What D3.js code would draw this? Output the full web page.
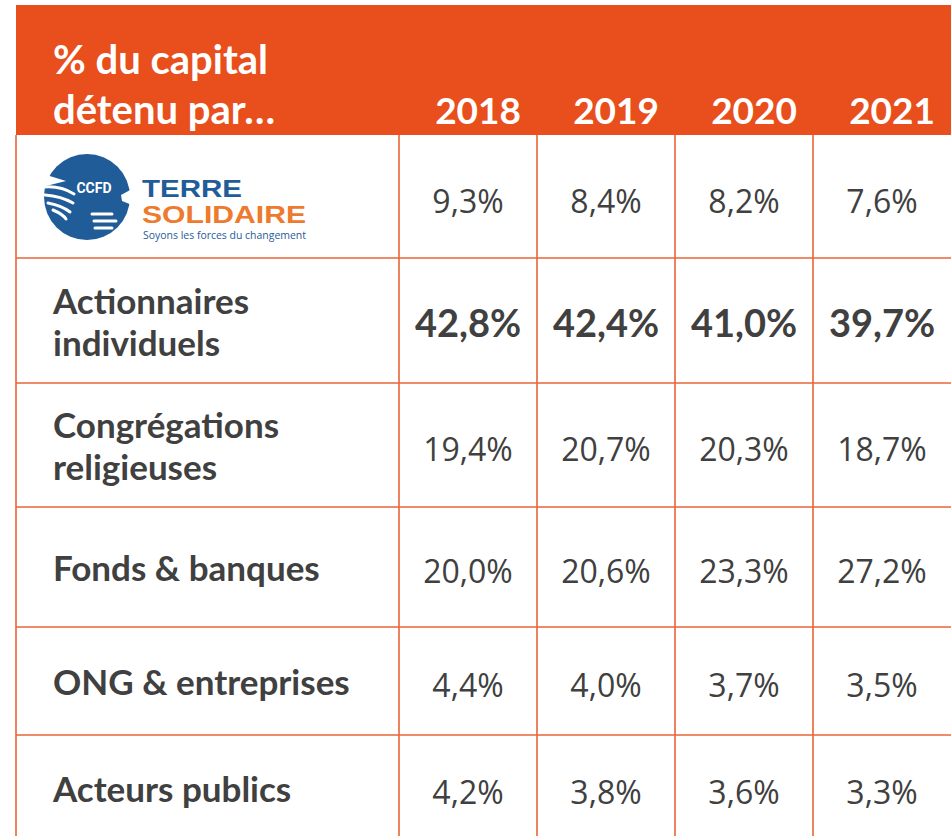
<!DOCTYPE html>
<html>
<head>
<meta charset="utf-8">
<script src="https://cdn.jsdelivr.net/npm/d3@7"></script>
<style>
  html, body { margin: 0; padding: 0; background: #ffffff; }
  svg { display: block; }
</style>
</head>
<body>
<svg id="chart" width="951" height="836"></svg>
<script>
// ---------- DATA ----------
const titleLines = ["% du capital", "détenu par…"];
const years = ["2018", "2019", "2020", "2021"];
const categories = ["CCFD-Terre Solidaire", "Actionnaires individuels", "Congrégations religieuses",
                    "Fonds & banques", "ONG & entreprises", "Acteurs publics"];
const labelLines = [[], ["Actionnaires", "individuels"], ["Congrégations", "religieuses"],
                    ["Fonds & banques"], ["ONG & entreprises"], ["Acteurs publics"]];
const values2018 = [9.3, 42.8, 19.4, 20.0, 4.4, 4.2];
const values2019 = [8.4, 42.4, 20.7, 20.6, 4.0, 3.8];
const values2020 = [8.2, 41.0, 20.3, 23.3, 3.7, 3.6];
const values2021 = [7.6, 39.7, 18.7, 27.2, 3.5, 3.3];
const highlightCategory = "Actionnaires individuels";
const logoWords = ["CCFD", "TERRE", "SOLIDAIRE", "Soyons les forces du changement"];

// ---------- LAYOUT ----------
const W = 951, H = 836;
const tableLeft = 16, firstColRight = 399, tableRight = 951;
const headerTop = 5, headerBottom = 135;
const rowHeights = [123, 125, 124, 120, 108, 106];
const ORANGE = "#E84F1D", LINE = "#EA6536", TEXT = "#404040";
const BLUE = "#1F5C98", LOGO_ORANGE = "#EE7A2E";

const seriesByYear = { "2018": values2018, "2019": values2019, "2020": values2020, "2021": values2021 };
const locale = d3.formatLocale({ decimal: ",", thousands: " ", grouping: [3], currency: ["", "€"] });
const fmt = v => locale.format(".1f")(v) + "%";

const svg = d3.select("#chart");

const x = d3.scaleBand().domain(years).range([firstColRight, tableRight]).padding(0);

// row boundaries
const rowTops = [];
let acc = headerBottom;
rowHeights.forEach(h => { rowTops.push(acc); acc += h; });
const y = d3.scaleOrdinal().domain(categories).range(rowTops);
const rowH = d3.scaleOrdinal().domain(categories).range(rowHeights);

// ---------- HEADER ----------
svg.append("rect")
  .attr("x", tableLeft).attr("y", headerTop)
  .attr("width", tableRight - tableLeft).attr("height", headerBottom - headerTop)
  .attr("fill", ORANGE);

svg.append("g").selectAll("text").data(titleLines).join("text")
  .attr("x", 53).attr("y", (d, i) => 74 + i * 50)
  .attr("fill", "#ffffff")
  .attr("font-family", "Lato, 'Open Sans', sans-serif")
  .attr("font-weight", 700).attr("font-size", 40)
  .text(d => d);

svg.append("g").selectAll("text").data(years).join("text")
  .attr("x", d => x(d) + x.bandwidth() - 16).attr("y", 124)
  .attr("text-anchor", "end")
  .attr("fill", "#ffffff")
  .attr("font-family", "Lato, 'Open Sans', sans-serif")
  .attr("font-weight", 700).attr("font-size", 37)
  .text(d => d);

// ---------- GRID ----------
const grid = svg.append("g").attr("stroke", LINE).attr("stroke-width", 1.6).attr("fill", "none");
const vx = [tableLeft, ...years.map(d => x(d))];
grid.selectAll("line.v").data(vx).join("line").attr("class", "v")
  .attr("x1", d => d).attr("x2", d => d)
  .attr("y1", headerBottom).attr("y2", H);
grid.selectAll("line.h").data(categories.slice(1)).join("line").attr("class", "h")
  .attr("x1", tableLeft).attr("x2", tableRight)
  .attr("y1", d => y(d)).attr("y2", d => y(d));

// ---------- LABELS ----------
categories.forEach((cat, ci) => {
  const lines = labelLines[ci];
  const cy = y(cat) + rowH(cat) / 2;
  const n = lines.length;
  svg.append("g").selectAll("text").data(lines).join("text")
    .attr("x", 53)
    .attr("y", (d, i) => cy + 14 + (i - (n - 1) / 2) * 42)
    .attr("fill", TEXT)
    .attr("font-family", "Lato, 'Open Sans', sans-serif")
    .attr("font-weight", 700).attr("font-size", 35)
    .text(d => d);
});

// ---------- VALUES ----------
const cells = [];
categories.forEach((cat, ci) => years.forEach(yr => cells.push({ cat, yr, v: seriesByYear[yr][ci] })));
svg.append("g").selectAll("text").data(cells).join("text")
  .attr("x", d => x(d.yr) + x.bandwidth() / 2)
  .attr("y", d => y(d.cat) + rowH(d.cat) / 2 + 16)
  .attr("text-anchor", "middle")
  .attr("fill", TEXT)
  .attr("font-family", d => d.cat === highlightCategory ? "Lato, sans-serif" : "'Open Sans', sans-serif")
  .attr("font-weight", d => d.cat === highlightCategory ? 700 : 400)
  .attr("font-size", d => d.cat === highlightCategory ? 38 : 32)
  .text(d => fmt(d.v));

// ---------- LOGO ----------
const logoCat = categories[0];
const lg = svg.append("g").attr("transform", `translate(0, ${y(logoCat)})`);
const cx = 87, cyL = 62;
lg.append("circle").attr("cx", cx).attr("cy", cyL).attr("r", 43).attr("fill", BLUE);
// thumb notch (top-left) and right notch
lg.append("path").attr("d", "M40,38 L66,46 L42,52 Z").attr("fill", "#ffffff");
lg.append("path").attr("d", "M132,54 L121,60 L122,66 L132,70 Z").attr("fill", "#ffffff");
// hands (white stripes)
const handPaths = [
  "M44,52 C56,51 66,54 74,59",
  "M45,60 C57,61 66,64 73,68",
  "M48,68 C58,70 65,73 70,77",
  "M53,75 C60,78 64,81 66,84",
  "M92,79 L112,79",
  "M94,86 L116,86",
  "M95,93 L112,93"
];
lg.append("g").selectAll("path").data(handPaths).join("path")
  .attr("d", d => d).attr("fill", "none")
  .attr("stroke", "#ffffff").attr("stroke-width", 3).attr("stroke-linecap", "round");
lg.append("text").attr("x", 94).attr("y", 58).attr("text-anchor", "middle")
  .attr("fill", "#ffffff").attr("font-family", "Roboto, sans-serif").attr("font-weight", 700)
  .attr("font-size", 14).text(logoWords[0]);
const brand = [
  { t: logoWords[1], base: 62, fill: BLUE, len: 100 },
  { t: logoWords[2], base: 88, fill: LOGO_ORANGE, len: 164 }
];
lg.append("g").selectAll("text").data(brand).join("text")
  .attr("x", 142).attr("y", d => d.base)
  .attr("fill", d => d.fill).attr("font-family", "'Liberation Sans', Arial, sans-serif").attr("font-weight", 700)
  .attr("font-size", 23).attr("textLength", d => d.len).attr("lengthAdjust", "spacingAndGlyphs")
  .text(d => d.t);
lg.append("text").attr("x", 143).attr("y", 104)
  .attr("fill", BLUE).attr("font-family", "'Open Sans', sans-serif")
  .attr("font-size", 10).attr("textLength", 163).attr("lengthAdjust", "spacingAndGlyphs").text(logoWords[3]);
</script>
</body>
</html>
